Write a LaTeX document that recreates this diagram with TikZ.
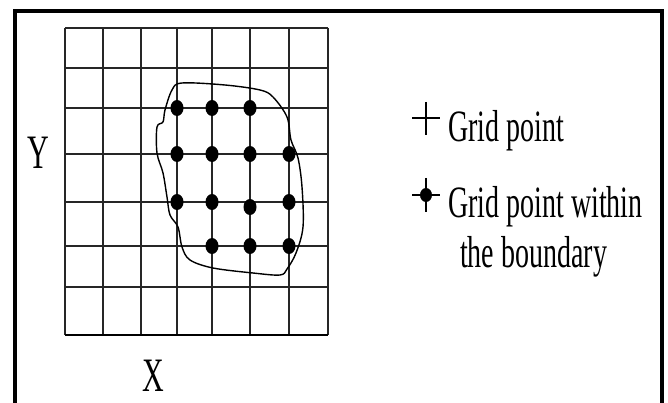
\documentclass[tikz,border=0pt]{standalone}
\usepackage{fontspec}
\setmainfont{Liberation Serif}
\usetikzlibrary{calc,shapes.geometric}
\tikzset{
  gridline/.style={line width=1.3pt, black!85},
  frameline/.style={line width=3.6pt, black},
  boundaryline/.style={line width=1.4pt, black},
  gdot/.style={ellipse, fill=black, minimum width=13pt, minimum height=16pt, inner sep=0pt},
  lbl/.style={inner sep=0pt, anchor=base west, font=\fontsize{28}{30}\selectfont},
  axis/.style={inner sep=0pt, font=\fontsize{30}{32}\selectfont},
}
\newcommand{\stretchtxt}[1]{\scalebox{1}[1.6]{#1}}
\begin{document}
\begin{tikzpicture}[x=1pt,y=-1pt]
\useasboundingbox (0,0) rectangle (668,403);
\fill[white] (0,0) rectangle (668,403);
% frame
\draw[frameline] (15,406) -- (15,11) -- (662,11) -- (662,406);
% grid
\foreach \gx in {65,103,141,177,212,250,289,328}
  \draw[gridline] (\gx,28) -- (\gx,335);
\foreach \gy in {28,68,108,154,202,246,287,335}
  \draw[gridline] (65,\gy) -- (328,\gy);
\draw[line width=2pt] (65,335) -- (328,335);
% boundary
\draw[boundaryline] plot[smooth cycle, tension=0.55] coordinates {
 (182,83) (225,85) (260,90) (273,97) (287,117) (291,140) (298,158) (302,187)
 (303,227) (296,253) (287,269) (280,275) (253,273) (213,268) (190,260)
 (182,247) (178,227) (170,215) (167,197) (163,173) (157,153) (157,127)
 (163,122) (165,110) (172,90)};
% dots
\foreach \px/\py [count=\i] in {177/108,212/108,250/108,
  177/154,212/154,250/154,289/154,
  177/202,212/202,250/207,289/202,
  212/246,250/246,289/246}
  \node[gdot] (d\i) at (\px,\py) {};
% axis labels
\node[axis] (ylab) at (38,153) {\stretchtxt{Y}};
\node[axis] (xlab) at (153,376) {\stretchtxt{X}};
% legend
\coordinate (p1) at (426,118);
\draw[line width=1.5pt] ($(p1)+(-14,0)$) -- ($(p1)+(14,0)$);
\draw[line width=1.5pt] ($(p1)+(0,-16)$) -- ($(p1)+(0,17)$);
\node[lbl] (t1) at (448,142) {\stretchtxt{Grid point}};
\coordinate (p2) at (426,195);
\draw[line width=1.5pt] ($(p2)+(-14,0)$) -- ($(p2)+(14,0)$);
\draw[line width=1.5pt] ($(p2)+(0,-17)$) -- ($(p2)+(0,17)$);
\node[gdot, minimum width=12pt, minimum height=14pt] (ld) at (p2) {};
\node[lbl] (t2) at (448,218) {\stretchtxt{Grid point within}};
\node[lbl] (t3) at (460,267) {\stretchtxt{the boundary}};
\end{tikzpicture}
\end{document}
